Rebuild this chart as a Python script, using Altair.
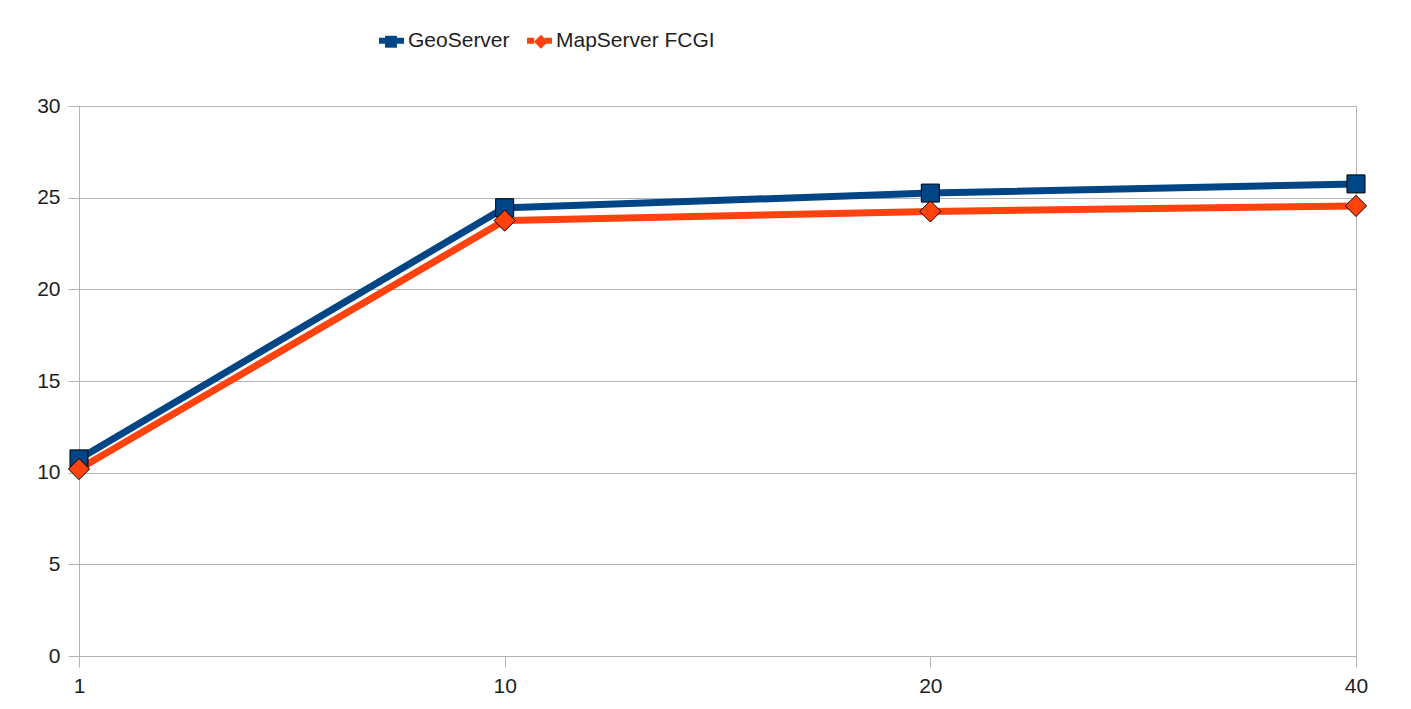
import altair as alt
import pandas as pd

threads = ["1", "10", "20", "40"]
series = ["GeoServer", "MapServer FCGI"]
geoserver = [10.75, 24.45, 25.25, 25.75]
mapserver = [10.2, 23.75, 24.25, 24.55]
colors = ["#004586", "#ff420e"]

rows = []
for s, vals in zip(series, [geoserver, mapserver]):
    for t, v in zip(threads, vals):
        rows.append({"threads": t, "value": v, "series": s, "series_line": s})
df = pd.DataFrame(rows)

FONT = "Liberation Sans"
GRID = "#b3b3b3"
TXT = "#1e1e1e"

SQUARE = "M-0.85,-0.85H0.85V0.85H-0.85Z"
DIAMOND = "M-1,0L0,-1L1,0L0,1Z"
BAR = "M-1,0H-0.42M0.42,0H1"

x = alt.X(
    "threads:N",
    sort=threads,
    scale=alt.Scale(type="point", padding=0),
    axis=alt.Axis(title=None, labelAngle=0, grid=False, ticks=True, tickSize=11,
                  labelPadding=8, domain=True),
)
y = alt.Y(
    "value:Q",
    scale=alt.Scale(domain=[0, 30]),
    axis=alt.Axis(title=None, values=[0, 5, 10, 15, 20, 25, 30], grid=True,
                  tickSize=11, labelPadding=8, domain=True),
)

lines = alt.Chart(df).mark_line(strokeWidth=7).encode(
    x=x,
    y=y,
    stroke=alt.Stroke(
        "series_line:N",
        scale=alt.Scale(range=colors),
        legend=alt.Legend(
            title=None, orient="none", direction="horizontal", padding=0,
            labelFont=FONT, labelFontSize=21, labelColor=TXT, labelLimit=400,
            columnPadding=5,
            legendX=297, legendY=-81, symbolType=BAR, symbolSize=625,
            symbolStrokeWidth=6, labelOffset=1,
        ),
    ),
)

shape_legend = alt.Legend(
    title=None, orient="none", direction="horizontal", padding=0,
    labelFont=FONT, labelFontSize=21, labelLimit=400, labelExpr="''",
    columnPadding=107,
    legendX=297, legendY=-75, symbolSize=196, symbolStrokeWidth=1,
    symbolStrokeColor="black", symbolOffset=4.5, labelOffset=17,
)

points = alt.Chart(df).mark_point(
    filled=True, size=450, stroke="black", strokeWidth=1, opacity=1
).encode(
    x=x,
    y=y,
    fill=alt.Fill("series:N", scale=alt.Scale(range=colors),
                  legend=shape_legend),
    shape=alt.Shape("series:N", scale=alt.Scale(range=[SQUARE, DIAMOND]),
                    legend=shape_legend),
)

chart = alt.layer(lines, points).properties(
    width=1277,
    height=550,
    autosize=alt.AutoSizeParams(type="none"),
    padding={"left": 71, "top": 98, "right": 40, "bottom": 40},
    background="white",
).configure_view(
    stroke=GRID, strokeWidth=1
).configure_axis(
    domainColor=GRID, tickColor=GRID, gridColor=GRID,
    labelFont=FONT, labelFontSize=21, labelColor=TXT,
)

chart.save("out.html", embed_options={"renderer": "svg", "actions": False})
